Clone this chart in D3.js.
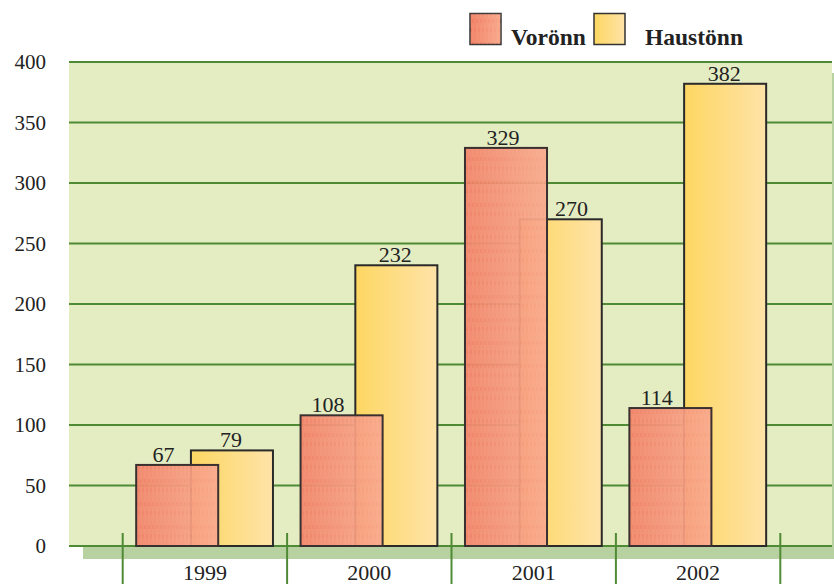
<!DOCTYPE html>
<html><head><meta charset="utf-8">
<script src="https://cdn.jsdelivr.net/npm/d3@7"></script>
<style>html,body{margin:0;padding:0;background:#fff;}svg{display:block;}</style>
</head><body>
<script>
const categories = ["1999","2000","2001","2002"];
const voronn = [67,108,329,114];
const haustonn = [79,232,270,382];
const yTicks = [0,50,100,150,200,250,300,350,400];
const seriesNames = ["Vorönn","Haustönn"];

const W=834,H=584;
const svg=d3.select("body").append("svg").attr("width",W).attr("height",H);
const defs=svg.append("defs");
const gr=defs.append("linearGradient").attr("id","gRed").attr("x1",0).attr("x2",1).attr("y1",0).attr("y2",0);
gr.append("stop").attr("offset","0%").attr("stop-color","#f07c62");
gr.append("stop").attr("offset","100%").attr("stop-color","#f8a68a");
const gy=defs.append("linearGradient").attr("id","gYel").attr("x1",0).attr("x2",1).attr("y1",0).attr("y2",0);
gy.append("stop").attr("offset","0%").attr("stop-color","#fdd762");
gy.append("stop").attr("offset","100%").attr("stop-color","#fee3a8");
const pat=defs.append("pattern").attr("id","streak").attr("patternUnits","userSpaceOnUse").attr("width",4).attr("height",23);
pat.append("line").attr("x1",1).attr("x2",1).attr("y1",0).attr("y2",19).attr("stroke","#fcc7aa").attr("stroke-width",0.7).attr("opacity",0.45);
pat.append("line").attr("x1",3).attr("x2",3).attr("y1",9).attr("y2",23).attr("stroke","#fcc7aa").attr("stroke-width",0.6).attr("opacity",0.35);
pat.append("line").attr("x1",3).attr("x2",3).attr("y1",0).attr("y2",5).attr("stroke","#fcc7aa").attr("stroke-width",0.6).attr("opacity",0.35);

const plotL=69, plotR=832, plotT=62, plotB=546;
const y=d3.scaleLinear().domain([0,400]).range([plotB,plotT]);
const x=d3.scaleBand().domain(categories).range([122.7,780.3]).padding(0);
const bw=x.bandwidth();

// shadows
svg.append("rect").attr("x",83).attr("y",plotB+1).attr("width",W-83).attr("height",12).attr("fill","#b8d1a0");
svg.append("rect").attr("x",plotR).attr("y",73).attr("width",4).attr("height",plotB-73+13).attr("fill","#b8d1a0");
// plot bg
svg.append("rect").attr("x",plotL).attr("y",plotT).attr("width",plotR-plotL).attr("height",plotB-plotT).attr("fill","#e4ecc2");
// grid
svg.append("g").selectAll("line").data(yTicks).join("line")
  .attr("x1",plotL).attr("x2",plotR).attr("y1",d=>y(d)).attr("y2",d=>y(d))
  .attr("stroke","#4f8a35").attr("stroke-width",2);
// y labels
svg.append("g").selectAll("text").data(yTicks).join("text")
  .attr("x",46).attr("y",d=>y(d)+7).attr("text-anchor","end")
  .attr("font-family","Liberation Serif, serif").attr("font-size",21).attr("fill","#222").text(d=>d);
// x ticks
const bounds=categories.map(c=>x(c)).concat([x(categories[categories.length-1])+bw]);
svg.append("g").selectAll("line").data(bounds).join("line")
  .attr("x1",d=>d).attr("x2",d=>d).attr("y1",533).attr("y2",H)
  .attr("stroke","#4f8a35").attr("stroke-width",2);
// x labels
svg.append("g").selectAll("text").data(categories).join("text")
  .attr("x",d=>x(d)+bw/2).attr("y",580).attr("text-anchor","middle")
  .attr("font-family","Liberation Serif, serif").attr("font-size",22).attr("fill","#222").text(d=>d);

const offR=0.082*bw, offY=0.415*bw, barW=0.499*bw;
const redX=i=>x(categories[i])+offR, yelX=i=>x(categories[i])+offY;
// yellow bars
const gY=svg.append("g");
gY.selectAll("rect").data(haustonn).join("rect")
  .attr("x",(d,i)=>yelX(i)).attr("y",d=>y(d)).attr("width",barW).attr("height",d=>plotB-y(d))
  .attr("fill","url(#gYel)").attr("stroke","#2a2a2a").attr("stroke-width",2);
// red bars
const gR=svg.append("g");
gR.selectAll("rect.f").data(voronn).join("rect").attr("class","f")
  .attr("x",(d,i)=>redX(i)).attr("y",d=>y(d)).attr("width",barW).attr("height",d=>plotB-y(d))
  .attr("fill","url(#gRed)").attr("fill-opacity",0.93);
gR.selectAll("rect.p").data(voronn).join("rect").attr("class","p")
  .attr("x",(d,i)=>redX(i)).attr("y",d=>y(d)).attr("width",barW).attr("height",d=>plotB-y(d))
  .attr("fill","url(#streak)");
gR.selectAll("rect.s").data(voronn).join("rect").attr("class","s")
  .attr("x",(d,i)=>redX(i)).attr("y",d=>y(d)).attr("width",barW).attr("height",d=>plotB-y(d))
  .attr("fill","none").attr("stroke","#3a3030").attr("stroke-width",2);
// value labels: centred on the visible part of each bar top
const yelLabelX=(d,i)=> voronn[i]>d ? (redX(i)+barW+yelX(i)+barW)/2 - 3 : yelX(i)+barW/2 - 1;
const redLabelX=(d,i)=> haustonn[i]>d ? (redX(i)+yelX(i))/2 : redX(i)+barW/2 - 3;
svg.append("g").selectAll("text").data(haustonn).join("text")
  .attr("x",yelLabelX).attr("y",d=>y(d)-3).attr("text-anchor","middle")
  .attr("font-family","Liberation Serif, serif").attr("font-size",22).attr("fill","#222").text(d=>d);
svg.append("g").selectAll("text").data(voronn).join("text")
  .attr("x",redLabelX).attr("y",d=>y(d)-3).attr("text-anchor","middle")
  .attr("font-family","Liberation Serif, serif").attr("font-size",22).attr("fill","#222").text(d=>d);

// legend
const lg=svg.append("g");
lg.append("rect").attr("x",470).attr("y",13.5).attr("width",31).attr("height",31).attr("fill","url(#gRed)").attr("stroke","#333").attr("stroke-width",1.5);
lg.append("rect").attr("x",470).attr("y",13.5).attr("width",31).attr("height",31).attr("fill","url(#streak)");
lg.append("rect").attr("x",594).attr("y",13.5).attr("width",31).attr("height",31).attr("fill","url(#gYel)").attr("stroke","#333").attr("stroke-width",1.5);
lg.append("text").attr("x",511).attr("y",45).attr("font-family","Liberation Serif, serif").attr("font-weight","bold").attr("font-size",23.5).attr("fill","#222").text(seriesNames[0]);
lg.append("text").attr("x",645).attr("y",45).attr("font-family","Liberation Serif, serif").attr("font-weight","bold").attr("font-size",23.5).attr("fill","#222").text(seriesNames[1]);
</script>
</body></html>
